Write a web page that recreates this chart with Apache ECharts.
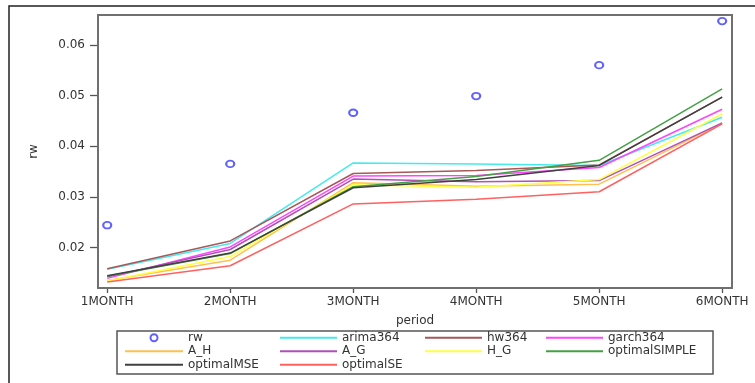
<!DOCTYPE html>
<html>
<head>
<meta charset="utf-8">
<script src="https://cdn.jsdelivr.net/npm/echarts@6/dist/echarts.min.js"></script>
<style>
html,body{margin:0;padding:0;background:#fff;}
#c{width:755px;height:383px;}
</style>
</head>
<body>
<div id="c"></div>
<script>
var categories = ['1MONTH', '2MONTH', '3MONTH', '4MONTH', '5MONTH', '6MONTH'];
var yTicks = [0.02, 0.03, 0.04, 0.05, 0.06];
var rw            = [0.0244, 0.0365, 0.0466, 0.0499, 0.0560, 0.0647];
var arima364      = [0.0157, 0.0208, 0.0367, 0.0365, 0.0362, 0.0457];
var hw364         = [0.0158, 0.0213, 0.0346, 0.0352, 0.0363, 0.0497];
var garch364      = [0.0139, 0.0201, 0.0341, 0.0342, 0.0358, 0.0473];
var A_H           = [0.0135, 0.0175, 0.0328, 0.0321, 0.0325, 0.0445];
var A_G           = [0.0142, 0.0196, 0.0335, 0.0330, 0.0332, 0.0446];
var H_G           = [0.0134, 0.0182, 0.0324, 0.0319, 0.0334, 0.0464];
var optimalSIMPLE = [0.0143, 0.0188, 0.0320, 0.0340, 0.0372, 0.0513];
var optimalMSE    = [0.0144, 0.0189, 0.0318, 0.0334, 0.0362, 0.0497];
var optimalSE     = [0.0132, 0.0164, 0.0286, 0.0295, 0.0310, 0.0444];

var FONT = 'DejaVu Sans';
function pts(arr) { return arr.map(function (v, i) { return [i + 1, v]; }); }

var lineDefs = [
  ['arima364', arima364, '#44eaf0'],
  ['hw364', hw364, '#a85858'],
  ['garch364', garch364, '#ff44ff'],
  ['A_H', A_H, '#ffc050'],
  ['A_G', A_G, '#b050b8'],
  ['H_G', H_G, '#ffff44'],
  ['optimalSIMPLE', optimalSIMPLE, '#44a044'],
  ['optimalMSE', optimalMSE, '#404040'],
  ['optimalSE', optimalSE, '#ff6060']
];

var series = [{
  name: 'rw', type: 'scatter', data: pts(rw),
  symbol: 'emptyCircle', symbolSize: [8, 6.5],
  itemStyle: { color: '#3a3aff', borderColor: '#3a3aff', borderWidth: 1.5 },
  z: 5
}];
lineDefs.forEach(function (d) {
  series.push({
    name: d[0], type: 'line', data: pts(d[1]), symbol: 'none',
    lineStyle: { color: d[2], width: 1.5 }, itemStyle: { color: d[2] }
  });
});

function legendCol(left, width, names) {
  return {
    orient: 'vertical', left: left, top: 331, padding: 0, itemGap: 0,
    itemWidth: width, itemHeight: 7,
    textStyle: { fontFamily: FONT, fontSize: 12, color: '#333', lineHeight: 13.5 },
    data: names.map(function (n) {
      return n === 'rw' ? { name: n } : { name: n, itemStyle: { opacity: 0 } };
    })
  };
}

var option = {
  animation: false,
  backgroundColor: '#fff',
  grid: { left: 98, right: 23, top: 15, bottom: 95 },
  xAxis: {
    type: 'value', min: 0.925, max: 6.08,
    name: 'period', nameLocation: 'middle', nameGap: 27,
    nameTextStyle: { fontFamily: FONT, fontSize: 12, color: '#333' },
    axisLine: { show: false },
    axisTick: { show: true, length: 5, customValues: [1, 2, 3, 4, 5, 6], lineStyle: { color: '#555', width: 1.3 } },
    axisLabel: {
      customValues: [1, 2, 3, 4, 5, 6], margin: 8,
      fontFamily: FONT, fontSize: 12, color: '#333',
      formatter: function (v) { return categories[Math.round(v) - 1]; }
    },
    splitLine: { show: false }
  },
  yAxis: {
    type: 'value', min: 0.012, max: 0.0659,
    name: 'rw', nameLocation: 'middle', nameGap: 58,
    nameTextStyle: { fontFamily: FONT, fontSize: 12, color: '#333' },
    axisLine: { show: false },
    axisTick: { show: true, length: 8, customValues: yTicks, lineStyle: { color: '#555', width: 1.3 } },
    axisLabel: {
      customValues: yTicks, margin: 13,
      fontFamily: FONT, fontSize: 12, color: '#333',
      formatter: function (v) { return v.toFixed(2); }
    },
    splitLine: { show: false }
  },
  legend: [
    legendCol(124, 58, ['rw', 'A_H', 'optimalMSE']),
    legendCol(279, 57, ['arima364', 'A_G', 'optimalSE']),
    legendCol(424, 57, ['hw364', 'H_G']),
    legendCol(545, 57, ['garch364', 'optimalSIMPLE'])
  ],
  graphic: [
    { type: 'rect', shape: { x: 9, y: 6, width: 800, height: 420 }, style: { fill: 'none', stroke: '#222', lineWidth: 1.5 }, silent: true },
    { type: 'rect', shape: { x: 98, y: 15, width: 634, height: 273 }, style: { fill: 'none', stroke: '#707070', lineWidth: 2 }, silent: true, z: 10 },
    { type: 'rect', shape: { x: 117, y: 331, width: 596, height: 43 }, style: { fill: 'none', stroke: '#555', lineWidth: 1.5 }, silent: true }
  ],
  series: series
};

var chart = echarts.init(document.getElementById('c'), null, { renderer: 'canvas' });
chart.setOption(option);
</script>
</body>
</html>
